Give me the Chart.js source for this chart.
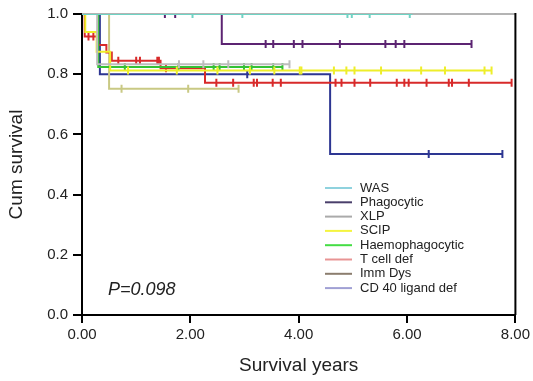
<!DOCTYPE html>
<html>
<head>
<meta charset="utf-8">
<script src="https://cdn.jsdelivr.net/npm/chart.js@4.4.1/dist/chart.umd.min.js"></script>
<style>
  html, body { margin: 0; padding: 0; background: #fff; }
  #wrap { width: 533px; height: 381px; }
</style>
</head>
<body>
<div id="wrap"><canvas id="km" width="533" height="381"></canvas></div>
<script>
// group names, plot colours and (paler) legend swatch colours
const names = ['WAS', 'Phagocytic', 'XLP', 'SCIP', 'Haemophagocytic', 'T cell def', 'Imm Dys', 'CD 40 ligand def'];
const lineColors = ['#6fd3c4', '#5c2472', '#bdbdbd', '#eeee2a', '#34c234', '#d82a2a', '#c9c984', '#2d3692'];
const legendColors = ['#8fd2de', '#4a3f6b', '#aaaaaa', '#f4f440', '#44dd44', '#e89494', '#8b7d6e', '#a0a0d4'];

// event times and survival after each step
const wasTimes = [0];
const wasSurv = [1.0];
const phagTimes = [0, 2.58];
const phagSurv = [1.0, 0.90];
const xlpTimes = [0, 0.28];
const xlpSurv = [1.0, 0.833];
const scipTimes = [0, 0.06, 0.27, 0.52];
const scipSurv = [1.0, 0.94, 0.875, 0.812];
const haemTimes = [0, 0.30];
const haemSurv = [1.0, 0.824];
const tcellTimes = [0, 0.05, 0.30, 0.45, 0.55, 1.45, 2.27];
const tcellSurv = [1.0, 0.925, 0.897, 0.872, 0.845, 0.82, 0.772];
const immTimes = [0, 0.50];
const immSurv = [1.0, 0.752];
const cd40Times = [0, 0.33, 4.58];
const cd40Surv = [1.0, 0.80, 0.535];

// censored cases
const wasCens = [2.04, 2.96, 4.90, 4.98, 5.31, 6.05];
const phagCens = [1.53, 1.72, 3.39, 3.53, 3.91, 4.07, 4.76, 5.60, 5.79, 5.95, 7.19];
const xlpCens = [1.79, 2.24, 2.70, 3.83];
const scipCens = [0.85, 1.75, 2.5, 3.1, 3.55, 4.02, 4.05, 4.65, 4.88, 5.03, 5.52, 6.26, 6.70, 7.43, 7.56];
const haemCens = [0.79, 1.78, 2.43, 2.54, 2.99, 3.13, 3.53, 3.70];
const tcellCens = [0.12, 0.21, 0.67, 1.0, 1.07, 1.39, 1.42, 1.55, 2.48, 2.79, 3.17, 3.23, 3.52, 3.67,
  4.68, 4.79, 5.03, 5.32, 5.81, 5.95, 6.03, 6.36, 6.77, 6.83, 7.14, 7.93];
const immCens = [0.73, 1.96, 2.89];
const cd40Cens = [3.05, 6.40, 7.76];

// last follow-up time of each group
const followEnd = [6.1, 7.19, 3.83, 7.56, 3.71, 7.93, 2.89, 7.76];

const allTimes = [wasTimes, phagTimes, xlpTimes, scipTimes, haemTimes, tcellTimes, immTimes, cd40Times];
const allSurv = [wasSurv, phagSurv, xlpSurv, scipSurv, haemSurv, tcellSurv, immSurv, cd40Surv];
const allCens = [wasCens, phagCens, xlpCens, scipCens, haemCens, tcellCens, immCens, cd40Cens];

const survAt = (times, surv, t) => {
  let s = surv[0];
  times.forEach((tt, i) => { if (tt <= t) s = surv[i]; });
  return s;
};

const datasets = [];
names.forEach((name, i) => {
  const times = allTimes[i];
  const surv = allSurv[i];
  const pts = times.map((t, k) => ({ x: t, y: surv[k] }));
  pts.push({ x: followEnd[i], y: surv[surv.length - 1] });
  datasets.push({
    label: name,
    data: pts,
    stepped: true,
    borderColor: lineColors[i],
    borderWidth: 2,
    pointRadius: 0,
    fill: false,
  });
  datasets.push({
    label: name + ' censored',
    type: 'scatter',
    data: allCens[i].map(t => ({ x: t, y: survAt(times, surv, t) })),
    pointStyle: 'line',
    rotation: 90,
    radius: 4,
    borderWidth: 2,
    borderColor: lineColors[i],
    backgroundColor: lineColors[i],
  });
});

const font = '"Liberation Sans", Arial, sans-serif';
Chart.defaults.font.family = font;

// frame, legend and p-value
const extras = {
  id: 'extras',
  beforeDatasetsDraw(chart) {
    const { ctx, chartArea: a } = chart;
    ctx.save();
    ctx.lineWidth = 2;
    ctx.strokeStyle = '#b4b4b4';
    ctx.beginPath();
    ctx.moveTo(a.left, a.top);
    ctx.lineTo(a.right, a.top);
    ctx.stroke();
    ctx.strokeStyle = '#000';
    ctx.beginPath();
    ctx.moveTo(a.right, a.top - 1);
    ctx.lineTo(a.right, a.bottom);
    ctx.stroke();
    ctx.restore();
  },
  afterDraw(chart) {
    const ctx = chart.ctx;
    ctx.save();
    ctx.textBaseline = 'middle';
    ctx.textAlign = 'left';
    ctx.font = '13px ' + font;
    names.forEach((name, i) => {
      const y = 188 + i * 14.3;
      ctx.strokeStyle = legendColors[i];
      ctx.lineWidth = 2;
      ctx.beginPath();
      ctx.moveTo(325, y);
      ctx.lineTo(352, y);
      ctx.stroke();
      ctx.fillStyle = '#222';
      ctx.fillText(name, 360, y);
    });
    ctx.font = 'italic 18px ' + font;
    ctx.fillText('P=0.098', 108, 290);
    ctx.restore();
  },
};

new Chart(document.getElementById('km'), {
  type: 'line',
  data: { datasets },
  options: {
    responsive: false,
    animation: false,
    layout: { padding: { top: 14, right: 17, left: 0, bottom: 0 } },
    plugins: { legend: { display: false }, tooltip: { enabled: false } },
    scales: {
      x: {
        type: 'linear',
        min: 0,
        max: 8,
        ticks: { stepSize: 2, callback: v => v.toFixed(2), font: { size: 15 }, color: '#222', padding: 3, maxRotation: 0 },
        grid: { drawOnChartArea: false, tickLength: 8, color: '#000', lineWidth: 2 },
        border: { color: '#000', width: 2 },
        title: { display: true, text: 'Survival years', font: { size: 19 }, color: '#222', padding: { top: 0, bottom: 4 } },
        afterFit: s => { s.height = 66; },
      },
      y: {
        min: 0,
        max: 1,
        ticks: { stepSize: 0.2, callback: v => v.toFixed(1), font: { size: 15 }, color: '#222', padding: 5 },
        grid: { drawOnChartArea: false, tickLength: 9, color: '#000', lineWidth: 2 },
        border: { color: '#000', width: 2 },
        title: { display: true, text: 'Cum survival', font: { size: 19 }, color: '#222', padding: { top: 5, bottom: 0 } },
        afterFit: s => { s.width = 82; },
      },
    },
  },
  plugins: [extras],
});
</script>
</body>
</html>
